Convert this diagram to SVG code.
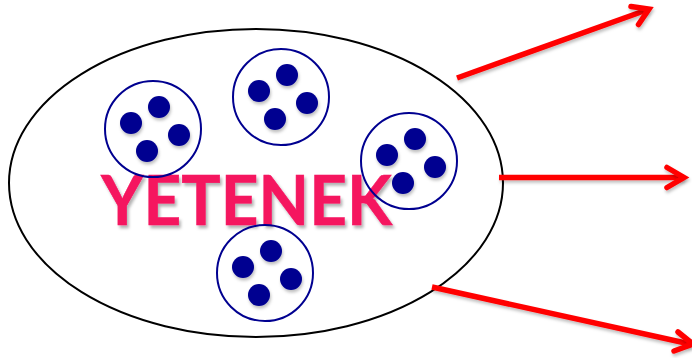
<svg xmlns="http://www.w3.org/2000/svg" width="692" height="358" viewBox="0 0 692 358">
<style>
.ring{fill:none;stroke:#000090;stroke-width:2}
.dot{fill:#000090;filter:url(#sh)}
.arrow{fill:none;stroke:#ff0000;stroke-width:5.500;filter:url(#sh)}
.head{stroke-linecap:round;stroke-linejoin:miter}
</style>
<defs>
<filter id="sh" filterUnits="userSpaceOnUse" x="0" y="0" width="692" height="358"><feDropShadow dx="1" dy="2.500" stdDeviation="1.600" flood-color="#000" flood-opacity="0.25"/></filter>
<filter id="ts" filterUnits="userSpaceOnUse" x="0" y="0" width="692" height="358"><feDropShadow dx="2" dy="3" stdDeviation="1.500" flood-color="#000" flood-opacity="0.3"/></filter>
</defs>
<rect width="692" height="358" fill="#fff"/>
<g id="outer"><ellipse cx="256" cy="183" rx="247" ry="154" fill="none" stroke="#000" stroke-width="2"/></g>
<g id="label"><text x="246.500" y="225" text-anchor="middle" font-family="Lato, sans-serif" font-weight="700" font-size="69" textLength="291" lengthAdjust="spacingAndGlyphs" fill="#f5145f" stroke="#f5145f" stroke-width="0.500" filter="url(#ts)">YETENEK</text></g>
<g id="cluster1"><circle class="ring" cx="153" cy="129" r="48"/><circle class="dot" cx="131" cy="123" r="11"/><circle class="dot" cx="159" cy="107" r="11"/><circle class="dot" cx="179" cy="135" r="11"/><circle class="dot" cx="147" cy="151" r="11"/></g>
<g id="cluster2"><circle class="ring" cx="281" cy="97" r="48"/><circle class="dot" cx="259" cy="91" r="11"/><circle class="dot" cx="287" cy="75" r="11"/><circle class="dot" cx="307" cy="103" r="11"/><circle class="dot" cx="275" cy="119" r="11"/></g>
<g id="cluster3"><circle class="ring" cx="409" cy="161" r="48"/><circle class="dot" cx="387" cy="155" r="11"/><circle class="dot" cx="415" cy="139" r="11"/><circle class="dot" cx="435" cy="167" r="11"/><circle class="dot" cx="403" cy="183" r="11"/></g>
<g id="cluster4"><circle class="ring" cx="265" cy="273" r="48"/><circle class="dot" cx="243" cy="267" r="11"/><circle class="dot" cx="271" cy="251" r="11"/><circle class="dot" cx="291" cy="279" r="11"/><circle class="dot" cx="259" cy="295" r="11"/></g>
<g id="connectors">
<path class="arrow" d="M457 78L648 9.500"/><path class="arrow head" d="M631 6.500L649 9L638.500 24.500"/>
<path class="arrow" d="M499 177.500H684"/><path class="arrow head" d="M667 167.500L684 177.500L667 187.500"/>
<path class="arrow" d="M432 287L690 344"/><path class="arrow head" d="M678 332L693 344L674 351"/>
</g>
</svg>
